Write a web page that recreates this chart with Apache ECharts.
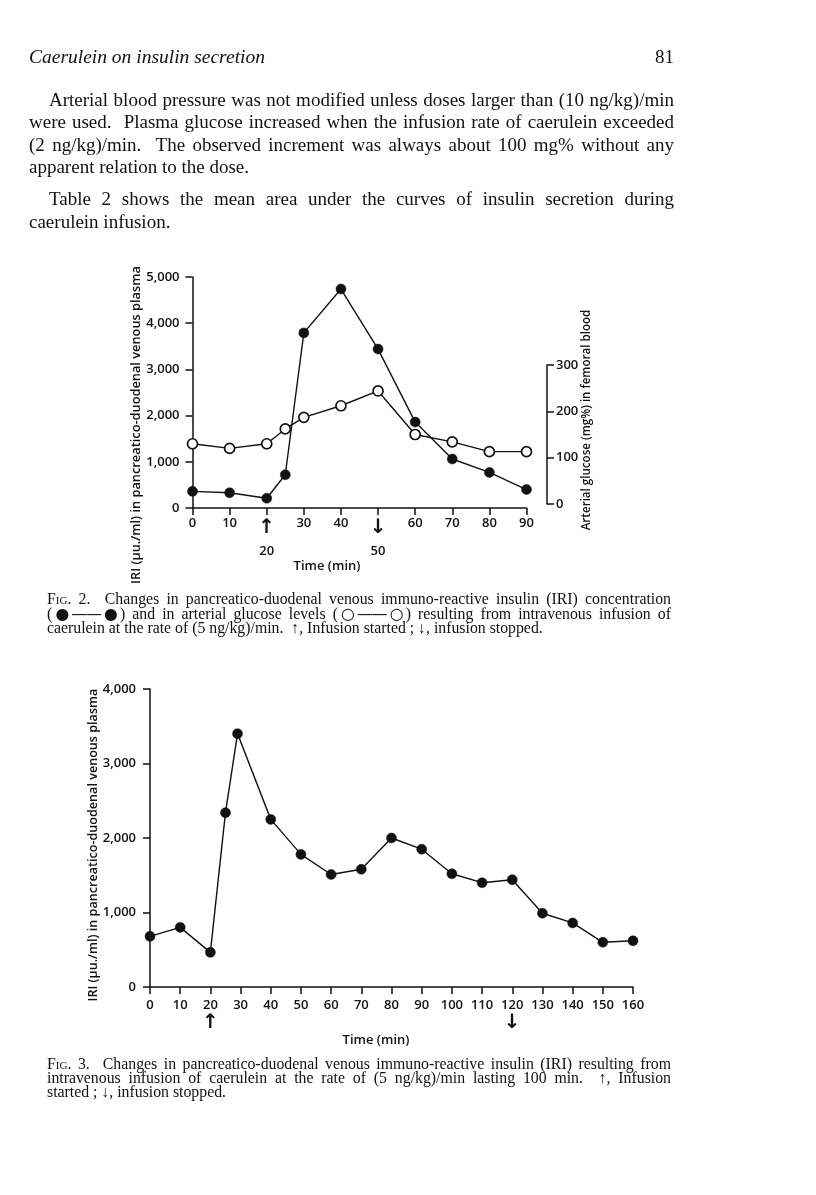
<!DOCTYPE html>
<html>
<head>
<meta charset="utf-8">
<script src="https://cdn.jsdelivr.net/npm/echarts@6/dist/echarts.min.js"></script>
<style>
  html, body { margin: 0; padding: 0; background: #fff; }
  #page { position: relative; width: 816px; height: 1195px; overflow: hidden; }
  #chart { position: absolute; left: 0; top: 0; width: 816px; height: 1195px; }
  .ln { position: absolute; white-space: nowrap; font-family: "Liberation Serif", "Times New Roman", serif; color: #111; }
  .body { font-size: 19px; line-height: 22px; height: 22px; }
  .cap { font-size: 15.8px; line-height: 14px; height: 14px; }
  .j { text-align: justify; text-align-last: justify; }
  .sc { font-variant: small-caps; }
  .dot { font-family: "DejaVu Sans", sans-serif; font-size: 1.0em; letter-spacing: -1px; }
</style>
</head>
<body>
<div id="page">
  <div id="chart"></div>
  <div class="ln body" style="left:29px; top:46px; font-style:italic; font-size:19.5px;">Caerulein on insulin secretion</div>
  <div class="ln body" style="left:600px; top:46px; width:74px; text-align:right;">81</div>

  <div class="ln body j g-body" style="left:49px; top:89px; width:625px;">Arterial blood pressure was not modified unless doses larger than (10 ng/kg)/min</div>
  <div class="ln body j g-body" style="left:29px; top:111px; width:645px;">were used.&nbsp; Plasma glucose increased when the infusion rate of caerulein exceeded</div>
  <div class="ln body j g-body" style="left:29px; top:134px; width:645px;">(2 ng/kg)/min.&nbsp; The observed increment was always about 100 mg% without any</div>
  <div class="ln body g-body" style="left:29px; top:156px;">apparent relation to the dose.</div>
  <div class="ln body j g-body" style="left:49px; top:188px; width:625px;">Table 2 shows the mean area under the curves of insulin secretion during</div>
  <div class="ln body g-body" style="left:29px; top:211px;">caerulein infusion.</div>

  <div class="ln cap j g-cap2" style="left:47px; top:592px; width:624px;"><span class="sc">Fig</span>. 2.&nbsp; Changes in pancreatico-duodenal venous immuno-reactive insulin (IRI) concentration</div>
  <div class="ln cap j g-cap2" style="left:47px; top:607px; width:624px;">(<span class="dot">●——●</span>) and in arterial glucose levels (<span class="dot">○——○</span>) resulting from intravenous infusion of</div>
  <div class="ln cap g-cap2" style="left:47px; top:621px;">caerulein at the rate of (5 ng/kg)/min.&nbsp; ↑, Infusion started ; ↓, infusion stopped.</div>

  <div class="ln cap j g-cap3" style="left:47px; top:1057px; width:624px;"><span class="sc">Fig</span>. 3.&nbsp; Changes in pancreatico-duodenal venous immuno-reactive insulin (IRI) resulting from</div>
  <div class="ln cap j g-cap3" style="left:47px; top:1071px; width:624px;">intravenous infusion of caerulein at the rate of (5 ng/kg)/min lasting 100 min.&nbsp; ↑, Infusion</div>
  <div class="ln cap g-cap3" style="left:47px; top:1085px;">started ; ↓, infusion stopped.</div>
</div>
<script>
// ---- Data ----
const fig2Time    = [0, 10, 20, 25, 30, 40, 50, 60, 70, 80, 90];
const fig2Insulin = [360, 330, 210, 720, 3790, 4740, 3440, 1860, 1060, 770, 400];
const fig2Glucose = [130, 120, 130, 162, 187, 212, 244, 150, 134, 113, 113];

const fig3Time    = [0, 10, 20, 25, 29, 40, 50, 60, 70, 80, 90, 100, 110, 120, 130, 140, 150, 160];
const fig3Insulin = [680, 800, 465, 2340, 3400, 2250, 1780, 1510, 1580, 2000, 1850, 1520, 1400, 1440, 990, 860, 600, 620];

const fig2InfusionStart = 20, fig2InfusionStop = 50;
const fig3InfusionStart = 20, fig3InfusionStop = 120;

const fig2YTitle = 'IRI (\u03bcu./ml) in pancreatico-duodenal venous plasma';
const fig2Y2Title = 'Arterial glucose (mg%) in femoral blood';
const fig3YTitle = 'IRI (\u03bcu./ml) in pancreatico-duodenal venous plasma';
const xTitle = 'Time (min)';

// ---- Fit justified page-text lines (shrink a group's font until every line fits) ----
['g-body', 'g-cap2', 'g-cap3'].forEach(cls => {
  const els = Array.from(document.getElementsByClassName(cls));
  let size = parseFloat(getComputedStyle(els[0]).fontSize);
  const fits = () => els.every(el => !el.style.width || el.scrollWidth <= el.clientWidth + 0.5);
  let guard = 0;
  while (!fits() && guard++ < 60) {
    size -= 0.1;
    els.forEach(el => { el.style.fontSize = size + 'px'; });
  }
});

// ---- Chart ----
const INK = '#111';
const FONT = '"Open Sans", "DejaVu Sans", sans-serif';
const pairs = (xs, ys) => xs.map((x, i) => [x, ys[i]]);
const thousands = v => v.toLocaleString('en-US');

const axisLineStyle = { show: true, onZero: false, lineStyle: { color: INK, width: 1.5 } };
const tickStyle = { show: true, inside: false, length: 7, lineStyle: { color: INK, width: 1.5 } };
const labelBase = { color: INK, fontFamily: FONT, fontWeight: 600, fontSize: 13 };

const chart = echarts.init(document.getElementById('chart'), null, { renderer: 'canvas' });

chart.setOption({
  animation: false,
  backgroundColor: 'transparent',
  grid: [
    { left: 192.5, top: 277, width: 334, height: 231 },
    { left: 192.5, top: 365, width: 334, height: 139 },
    { left: 150, top: 689, width: 483, height: 298 }
  ],
  xAxis: [
    {
      gridIndex: 0, type: 'value', min: 0, max: 90, interval: 10,
      axisLine: axisLineStyle, axisTick: tickStyle, splitLine: { show: false },
      axisLabel: Object.assign({}, labelBase, {
        margin: 9, lineHeight: 13,
        formatter: v => v === fig2InfusionStart ? '{arr|\u2191}\n{num|' + v + '}'
                   : v === fig2InfusionStop ? '{arr|\u2193}\n{num|' + v + '}' : String(v),
        rich: {
          arr: { fontFamily: '"DejaVu Sans", sans-serif', fontSize: 20, lineHeight: 22, color: INK },
          num: { fontFamily: FONT, fontWeight: 600, fontSize: 13, lineHeight: 24, color: INK }
        }
      })
    },
    { gridIndex: 1, type: 'value', min: 0, max: 90, show: false },
    {
      gridIndex: 2, type: 'value', min: 0, max: 160, interval: 10,
      axisLine: axisLineStyle, axisTick: tickStyle, splitLine: { show: false },
      axisLabel: Object.assign({}, labelBase, {
        margin: 11, lineHeight: 14,
        formatter: v => v === fig3InfusionStart ? v + '\n{arr|\u2191}'
                   : v === fig3InfusionStop ? v + '\n{arr|\u2193}' : String(v),
        rich: {
          arr: { fontFamily: '"DejaVu Sans", sans-serif', fontSize: 20, lineHeight: 22, color: INK }
        }
      })
    }
  ],
  yAxis: [
    {
      gridIndex: 0, type: 'value', min: 0, max: 5000, interval: 1000,
      axisLine: axisLineStyle, axisTick: tickStyle, splitLine: { show: false },
      axisLabel: Object.assign({}, labelBase, { margin: 13, formatter: thousands })
    },
    {
      gridIndex: 1, type: 'value', position: 'right', offset: 20.5,
      min: 0, max: 300, interval: 100,
      axisLine: axisLineStyle, axisTick: tickStyle, splitLine: { show: false },
      axisLabel: Object.assign({}, labelBase, { margin: 9 })
    },
    {
      gridIndex: 2, type: 'value', min: 0, max: 4000, interval: 1000,
      axisLine: axisLineStyle, axisTick: tickStyle, splitLine: { show: false },
      axisLabel: Object.assign({}, labelBase, { margin: 14, formatter: thousands })
    }
  ],
  series: [
    {
      name: 'IRI', type: 'line', xAxisIndex: 0, yAxisIndex: 0, clip: false,
      data: pairs(fig2Time, fig2Insulin),
      symbol: 'circle', symbolSize: 10,
      lineStyle: { color: INK, width: 1.4 },
      itemStyle: { color: INK, borderColor: INK, borderWidth: 0.5 },
      z: 3
    },
    {
      name: 'Glucose', type: 'line', xAxisIndex: 1, yAxisIndex: 1, clip: false,
      data: pairs(fig2Time, fig2Glucose),
      symbol: 'circle', symbolSize: 10,
      lineStyle: { color: INK, width: 1.4 },
      itemStyle: { color: '#fff', borderColor: INK, borderWidth: 1.7 },
      z: 4
    },
    {
      name: 'IRI fig3', type: 'line', xAxisIndex: 2, yAxisIndex: 2, clip: false,
      data: pairs(fig3Time, fig3Insulin),
      symbol: 'circle', symbolSize: 10,
      lineStyle: { color: INK, width: 1.4 },
      itemStyle: { color: INK, borderColor: INK, borderWidth: 0.5 },
      z: 3
    }
  ],
  graphic: [
    { type: 'text', x: 136, y: 425, rotation: Math.PI / 2,
      style: { text: fig2YTitle, font: '600 12.8px ' + FONT, fill: INK, align: 'center', verticalAlign: 'middle' } },
    { type: 'text', x: 587, y: 420, rotation: Math.PI / 2,
      style: { text: fig2Y2Title, font: '600 11.6px ' + FONT, fill: INK, align: 'center', verticalAlign: 'middle' } },
    { type: 'text', x: 327, y: 566,
      style: { text: xTitle, font: '600 13px ' + FONT, fill: INK, align: 'center', verticalAlign: 'middle' } },
    { type: 'text', x: 93, y: 845, rotation: Math.PI / 2,
      style: { text: fig3YTitle, font: '600 12.6px ' + FONT, fill: INK, align: 'center', verticalAlign: 'middle' } },
    { type: 'text', x: 376, y: 1040,
      style: { text: xTitle, font: '600 13px ' + FONT, fill: INK, align: 'center', verticalAlign: 'middle' } }
  ]
});
</script>
</body>
</html>
